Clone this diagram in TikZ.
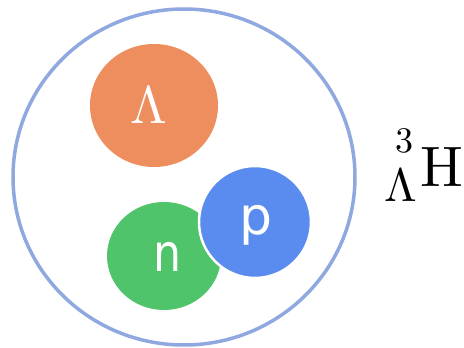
\documentclass[tikz,border=0pt]{standalone}
\usepackage{fontspec}
\usepackage{tikz}
\usetikzlibrary{shapes.geometric}
\newfontfamily\partfont{DejaVu Sans}
\newfontfamily\nucfont{lmroman10-regular.otf}
\definecolor{shellblue}{RGB}{143,169,224}
\definecolor{lambdaorange}{RGB}{238,142,94}
\definecolor{neutrongreen}{RGB}{80,196,106}
\definecolor{protonblue}{RGB}{90,139,238}

\begin{document}
\begin{tikzpicture}[x=1pt,y=1pt,
  particle/.style={ellipse, inner sep=0pt, draw=none},
  glyph/.style={inner sep=0pt, anchor=base, text=white}]
\useasboundingbox (0,0) rectangle (464,348);
\node[particle, draw=shellblue, line width=3.5pt, minimum width=342pt, minimum height=336pt] (shell) at (184,171) {};
\node[particle, fill=lambdaorange, minimum width=128pt, minimum height=123pt] (lambda) at (154,242.5) {};
\node[particle, fill=neutrongreen, minimum width=114pt, minimum height=108pt] (neutron) at (164,92) {};
\node[particle, fill=protonblue, draw=white, line width=2.5pt, minimum width=112pt, minimum height=112pt] (proton) at (255,126) {};
\node[glyph, font=\nucfont\fontsize{53}{53}\selectfont] (lambdatext) at (149,224) {Λ};
\node[glyph, font=\partfont\fontsize{52}{52}\selectfont] (neutrontext) at (167.5,76) {\scalebox{0.85}[1]{n}};
\node[glyph, font=\partfont\fontsize{52}{52}\selectfont] (protontext) at (256.5,113) {p};
% hypertriton label
\node[inner sep=0pt, anchor=base, font=\nucfont\fontsize{57}{57}\selectfont] (hnucleus) at (441.5,161) {H};
\node[inner sep=0pt, anchor=base, font=\nucfont\fontsize{36}{36}\selectfont] (hmass) at (404,195) {3};
\node[inner sep=0pt, anchor=base, font=\nucfont\fontsize{47}{47}\selectfont] (hlambda) at (401,146) {Λ};
\end{tikzpicture}
\end{document}
